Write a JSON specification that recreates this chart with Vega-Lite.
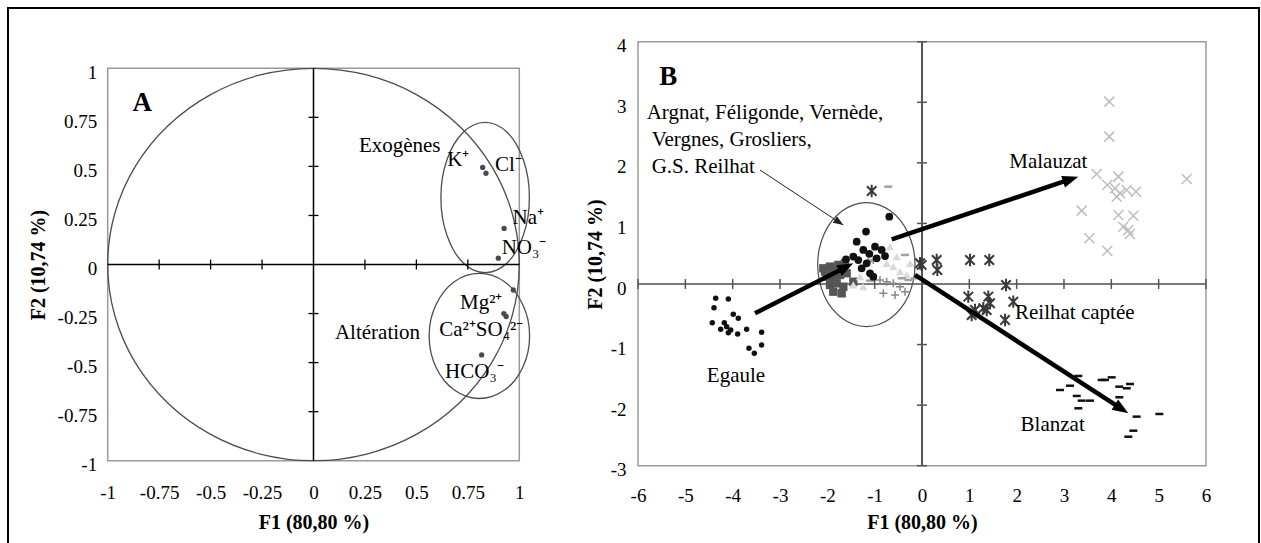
{
"$schema":"https://vega.github.io/schema/vega-lite/v6.json",
"width":1251,"height":537,
"autosize":{"type":"none"},
"padding":{"left":8,"top":8,"right":2,"bottom":0},
"background":"white",
"config":{
 "view":{"stroke":"black","strokeWidth":2},
 "axis":{"grid":false,"domain":false,"ticks":false,"tickSize":0,"labelFont":"Liberation Serif","labelFontSize":19,"labelColor":"black","titleFont":"Liberation Serif","titleFontSize":20,"titleFontWeight":"bold","titleColor":"black","labelFlush":false,"labelOverlap":false},
 "text":{"font":"Liberation Serif","fontSize":21,"color":"black"}
},
"datasets":{
 "curvesA":[
  {"s":"c","i":0,"x":1,"y":0},{"s":"c","i":1,"x":0.9659,"y":0.2588},{"s":"c","i":2,"x":0.866,"y":0.5},{"s":"c","i":3,"x":0.7071,"y":0.7071},{"s":"c","i":4,"x":0.5,"y":0.866},{"s":"c","i":5,"x":0.2588,"y":0.9659},{"s":"c","i":6,"x":0,"y":1},{"s":"c","i":7,"x":-0.2588,"y":0.9659},{"s":"c","i":8,"x":-0.5,"y":0.866},{"s":"c","i":9,"x":-0.7071,"y":0.7071},{"s":"c","i":10,"x":-0.866,"y":0.5},{"s":"c","i":11,"x":-0.9659,"y":0.2588},{"s":"c","i":12,"x":-1,"y":0},{"s":"c","i":13,"x":-0.9659,"y":-0.2588},{"s":"c","i":14,"x":-0.866,"y":-0.5},{"s":"c","i":15,"x":-0.7071,"y":-0.7071},{"s":"c","i":16,"x":-0.5,"y":-0.866},{"s":"c","i":17,"x":-0.2588,"y":-0.9659},{"s":"c","i":18,"x":0,"y":-1},{"s":"c","i":19,"x":0.2588,"y":-0.9659},{"s":"c","i":20,"x":0.5,"y":-0.866},{"s":"c","i":21,"x":0.7071,"y":-0.7071},{"s":"c","i":22,"x":0.866,"y":-0.5},{"s":"c","i":23,"x":0.9659,"y":-0.2588},
  {"s":"e","i":0,"x":1.049,"y":0.341},{"s":"e","i":1,"x":1.042,"y":0.44},{"s":"e","i":2,"x":1.02,"y":0.533},{"s":"e","i":3,"x":0.986,"y":0.612},{"s":"e","i":4,"x":0.942,"y":0.673},{"s":"e","i":5,"x":0.89,"y":0.711},{"s":"e","i":6,"x":0.834,"y":0.724},{"s":"e","i":7,"x":0.778,"y":0.711},{"s":"e","i":8,"x":0.727,"y":0.673},{"s":"e","i":9,"x":0.682,"y":0.612},{"s":"e","i":10,"x":0.648,"y":0.533},{"s":"e","i":11,"x":0.626,"y":0.44},{"s":"e","i":12,"x":0.619,"y":0.341},{"s":"e","i":13,"x":0.626,"y":0.242},{"s":"e","i":14,"x":0.648,"y":0.15},{"s":"e","i":15,"x":0.682,"y":0.07},{"s":"e","i":16,"x":0.727,"y":0.009},{"s":"e","i":17,"x":0.778,"y":-0.029},{"s":"e","i":18,"x":0.834,"y":-0.042},{"s":"e","i":19,"x":0.89,"y":-0.029},{"s":"e","i":20,"x":0.942,"y":0.009},{"s":"e","i":21,"x":0.986,"y":0.07},{"s":"e","i":22,"x":1.02,"y":0.15},{"s":"e","i":23,"x":1.042,"y":0.242},
  {"s":"a","i":0,"x":1.05,"y":-0.364},{"s":"a","i":1,"x":1.042,"y":-0.281},{"s":"a","i":2,"x":1.017,"y":-0.205},{"s":"a","i":3,"x":0.979,"y":-0.138},{"s":"a","i":4,"x":0.928,"y":-0.088},{"s":"a","i":5,"x":0.869,"y":-0.056},{"s":"a","i":6,"x":0.806,"y":-0.045},{"s":"a","i":7,"x":0.743,"y":-0.056},{"s":"a","i":8,"x":0.684,"y":-0.088},{"s":"a","i":9,"x":0.634,"y":-0.138},{"s":"a","i":10,"x":0.595,"y":-0.205},{"s":"a","i":11,"x":0.57,"y":-0.281},{"s":"a","i":12,"x":0.562,"y":-0.364},{"s":"a","i":13,"x":0.57,"y":-0.447},{"s":"a","i":14,"x":0.595,"y":-0.524},{"s":"a","i":15,"x":0.634,"y":-0.59},{"s":"a","i":16,"x":0.684,"y":-0.64},{"s":"a","i":17,"x":0.743,"y":-0.672},{"s":"a","i":18,"x":0.806,"y":-0.683},{"s":"a","i":19,"x":0.869,"y":-0.672},{"s":"a","i":20,"x":0.928,"y":-0.64},{"s":"a","i":21,"x":0.979,"y":-0.59},{"s":"a","i":22,"x":1.017,"y":-0.524},{"s":"a","i":23,"x":1.042,"y":-0.447}
 ],
 "ellB":[
  {"i":0,"x":-0.148,"y":0.319},{"i":1,"x":-0.183,"y":0.584},{"i":2,"x":-0.286,"y":0.831},{"i":3,"x":-0.449,"y":1.042},{"i":4,"x":-0.662,"y":1.205},{"i":5,"x":-0.91,"y":1.307},{"i":6,"x":-1.176,"y":1.342},{"i":7,"x":-1.442,"y":1.307},{"i":8,"x":-1.69,"y":1.205},{"i":9,"x":-1.903,"y":1.042},{"i":10,"x":-2.066,"y":0.831},{"i":11,"x":-2.169,"y":0.584},{"i":12,"x":-2.204,"y":0.319},{"i":13,"x":-2.169,"y":0.054},{"i":14,"x":-2.066,"y":-0.193},{"i":15,"x":-1.903,"y":-0.404},{"i":16,"x":-1.69,"y":-0.567},{"i":17,"x":-1.442,"y":-0.669},{"i":18,"x":-1.176,"y":-0.704},{"i":19,"x":-0.91,"y":-0.669},{"i":20,"x":-0.662,"y":-0.567},{"i":21,"x":-0.449,"y":-0.404},{"i":22,"x":-0.286,"y":-0.193},{"i":23,"x":-0.183,"y":0.054}
 ],
 "ptsB":[
  {"g":"S","x":-2.085,"y":0.259},{"g":"S","x":-1.944,"y":0.287},{"g":"S","x":-1.874,"y":0.232},{"g":"S","x":-1.768,"y":0.315},{"g":"S","x":-1.627,"y":0.342},{"g":"S","x":-2.014,"y":0.121},{"g":"S","x":-1.874,"y":0.095},{"g":"S","x":-1.733,"y":0.149},{"g":"S","x":-1.592,"y":0.177},{"g":"S","x":-1.944,"y":-0.016},{"g":"S","x":-1.803,"y":0.012},{"g":"S","x":-1.662,"y":-0.044},{"g":"S","x":-1.451,"y":0.038},{"g":"S","x":-1.874,"y":-0.127},{"g":"S","x":-1.697,"y":-0.154},{"g":"S","x":-2.049,"y":0.205},
  {"g":"T","x":-0.746,"y":0.342},{"g":"T","x":-0.606,"y":0.287},{"g":"T","x":-0.465,"y":0.205},{"g":"T","x":-0.323,"y":0.149},{"g":"T","x":-1.31,"y":0.121},{"g":"T","x":-1.451,"y":-0.016},{"g":"T","x":-1.24,"y":-0.044},{"g":"T","x":-0.253,"y":0.342},{"g":"T","x":-0.676,"y":0.616},{"g":"T","x":-0.534,"y":0.452},
  {"g":"P","x":-1.029,"y":0.396},{"g":"P","x":-0.888,"y":0.066},{"g":"P","x":-0.746,"y":0.038},{"g":"P","x":-0.606,"y":0.012},{"g":"P","x":-0.465,"y":-0.044},{"g":"P","x":-0.57,"y":-0.181},{"g":"P","x":-0.817,"y":-0.154},{"g":"P","x":-0.359,"y":-0.127},{"g":"P","x":-1.134,"y":0.369},
  {"g":"D","x":-0.712,"y":1.607},{"g":"D","x":-0.359,"y":0.479},{"g":"D","x":-0.288,"y":0.066},{"g":"D","x":-0.148,"y":0.095},{"g":"D","x":-0.429,"y":0.095},{"g":"D","x":-1.098,"y":0.055},
  {"g":"C","x":-0.691,"y":1.112},{"g":"C","x":-1.183,"y":0.865},{"g":"C","x":-1.38,"y":0.699},{"g":"C","x":-0.993,"y":0.616},{"g":"C","x":-1.24,"y":0.562},{"g":"C","x":-0.852,"y":0.562},{"g":"C","x":-1.113,"y":0.496},{"g":"C","x":-1.451,"y":0.452},{"g":"C","x":-1.606,"y":0.408},{"g":"C","x":-1.346,"y":0.396},{"g":"C","x":-0.958,"y":0.425},{"g":"C","x":-0.781,"y":0.462},{"g":"C","x":-1.169,"y":0.342},{"g":"C","x":-1.275,"y":0.259},{"g":"C","x":-1.098,"y":0.177},{"g":"C","x":-1.029,"y":0.121},
  {"g":"E","x":-4.359,"y":-0.236},{"g":"E","x":-4.092,"y":-0.248},{"g":"E","x":-4.395,"y":-0.391},{"g":"E","x":-3.987,"y":-0.5},{"g":"E","x":-3.881,"y":-0.567},{"g":"E","x":-4.431,"y":-0.638},{"g":"E","x":-4.177,"y":-0.638},{"g":"E","x":-4.127,"y":-0.704},{"g":"E","x":-4.042,"y":-0.759},{"g":"E","x":-4.254,"y":-0.748},{"g":"E","x":-4.092,"y":-0.803},{"g":"E","x":-3.895,"y":-0.825},{"g":"E","x":-3.705,"y":-0.748},{"g":"E","x":-3.388,"y":-0.798},{"g":"E","x":-3.388,"y":-1.006},{"g":"E","x":-3.656,"y":-1.062},{"g":"E","x":-3.543,"y":-1.144},
  {"g":"M","x":3.957,"y":3.011},{"g":"M","x":3.957,"y":2.433},{"g":"M","x":3.69,"y":1.817},{"g":"M","x":4.149,"y":1.773},{"g":"M","x":3.916,"y":1.635},{"g":"M","x":4.184,"y":1.497},{"g":"M","x":4.325,"y":1.553},{"g":"M","x":4.521,"y":1.524},{"g":"M","x":4.114,"y":1.441},{"g":"M","x":5.593,"y":1.734},{"g":"M","x":3.373,"y":1.211},{"g":"M","x":4.149,"y":1.14},{"g":"M","x":4.465,"y":1.128},{"g":"M","x":4.253,"y":0.946},{"g":"M","x":4.359,"y":0.892},{"g":"M","x":4.394,"y":0.826},{"g":"M","x":3.535,"y":0.755},{"g":"M","x":3.916,"y":0.55},{"g":"M","x":4.078,"y":1.58},
  {"g":"R","x":-0.042,"y":0.342},{"g":"R","x":0.31,"y":0.396},{"g":"R","x":0.324,"y":0.232},{"g":"R","x":1.014,"y":0.396},{"g":"R","x":1.422,"y":0.396},{"g":"R","x":1.775,"y":-0.016},{"g":"R","x":0.978,"y":-0.209},{"g":"R","x":1.401,"y":-0.209},{"g":"R","x":1.437,"y":-0.318},{"g":"R","x":1.12,"y":-0.429},{"g":"R","x":1.295,"y":-0.401},{"g":"R","x":1.929,"y":-0.292},{"g":"R","x":1.754,"y":-0.594},{"g":"R","x":1.049,"y":-0.512},{"g":"R","x":1.366,"y":-0.429},{"g":"R","x":-1.063,"y":1.536},{"g":"R","x":-0.007,"y":0.315},
  {"g":"B","x":3.303,"y":-1.518},{"g":"B","x":3.796,"y":-1.584},{"g":"B","x":4.007,"y":-1.541},{"g":"B","x":3.127,"y":-1.679},{"g":"B","x":2.916,"y":-1.75},{"g":"B","x":3.269,"y":-1.848},{"g":"B","x":3.373,"y":-1.926},{"g":"B","x":3.55,"y":-1.926},{"g":"B","x":3.303,"y":-2.052},{"g":"B","x":4.169,"y":-1.695},{"g":"B","x":4.395,"y":-1.651},{"g":"B","x":4.325,"y":-1.722},{"g":"B","x":4.169,"y":-1.87},{"g":"B","x":4.535,"y":-2.19},{"g":"B","x":5.014,"y":-2.146},{"g":"B","x":4.465,"y":-2.422},{"g":"B","x":4.359,"y":-2.521},{"g":"B","x":3.866,"y":-1.584}
 ],
 "arrows":[
  {"a":"Egaule","x":-3.528,"y":-0.484,"x2":-1.602,"y2":0.282},
  {"a":"Malauzat","x":-0.64,"y":0.738,"x2":3.142,"y2":1.73},
  {"a":"Blanzat","x":-0.148,"y":0.149,"x2":4.217,"y2":-2.063},
  {"a":"Argnat","x":-3.423,"y":1.882,"x2":-1.663,"y2":0.974}
 ],
 "heads":[
  {"a":"Egaule","x":-1.451,"y":0.342},
  {"a":"Malauzat","x":3.302,"y":1.772},
  {"a":"Blanzat","x":4.359,"y":-2.135},
  {"a":"Argnat","x":-1.663,"y":0.974}
 ]
},
"layer":[
 {
  "encoding":{
   "x":{"field":"x","type":"quantitative","scale":{"domain":[-1.48445,4.59427],"nice":false,"zero":false},
        "axis":{"orient":"bottom","offset":-84.3,"values":[-1,-0.75,-0.5,-0.25,0,0.25,0.5,0.75,1],"labelExpr":"'' + datum.value","labelPadding":22.5,"title":"F1 (80,80 %)","titleX":305.5,"titleY":61.3,"titleAlign":"center","titleBaseline":"middle","titleAngle":0}},
   "y":{"field":"y","type":"quantitative","scale":{"domain":[-1.42966,1.30734],"nice":false,"zero":false},
        "axis":{"orient":"left","offset":-99.7,"values":[-1,-0.75,-0.5,-0.25,0,0.25,0.5,0.75,1],"labelExpr":"'' + datum.value","labelPadding":11,"labelOffset":4,"title":"F2 (10,74 %)","titleX":-69.7,"titleY":256.5,"titleAlign":"center","titleBaseline":"middle","titleAngle":-90}}
  },
  "layer":[
   {"data":{"values":[{"x":-1,"y":-1,"x2":1,"y2":1}]},"mark":{"type":"rect","filled":false,"stroke":"#9a9a9a","strokeWidth":1.5},"encoding":{"x2":{"field":"x2"},"y2":{"field":"y2"}}},
   {"data":{"name":"curvesA"},"mark":{"type":"line","interpolate":"cardinal-closed","stroke":"#4d4d4d","strokeWidth":1.3},"encoding":{"order":{"field":"i","type":"quantitative"},"detail":{"field":"s","type":"nominal"}}},
   {"data":{"values":[{"x":-1,"y":0,"x2":1,"y2":0},{"x":0,"y":-1,"x2":0,"y2":1}]},"mark":{"type":"rule","color":"black","strokeWidth":1.5},"encoding":{"x2":{"field":"x2"},"y2":{"field":"y2"}}},
   {"data":{"values":[{"x":-0.75,"y":0},{"x":-0.5,"y":0},{"x":-0.25,"y":0},{"x":0.25,"y":0},{"x":0.5,"y":0},{"x":0.75,"y":0}]},"mark":{"type":"tick","orient":"vertical","size":10,"thickness":1.3,"color":"black","opacity":1}},
   {"data":{"values":[{"x":0,"y":-0.75},{"x":0,"y":-0.5},{"x":0,"y":-0.25},{"x":0,"y":0.25},{"x":0,"y":0.5},{"x":0,"y":0.75}]},"mark":{"type":"tick","orient":"horizontal","size":10,"thickness":1.3,"color":"black","opacity":1}},
   {"data":{"values":[{"v":"K","x":0.822,"y":0.495},{"v":"Cl","x":0.838,"y":0.465},{"v":"Na","x":0.926,"y":0.184},{"v":"NO3","x":0.898,"y":0.032},{"v":"Mg","x":0.971,"y":-0.13},{"v":"Ca","x":0.925,"y":-0.25},{"v":"SO4","x":0.936,"y":-0.265},{"v":"HCO3","x":0.817,"y":-0.461}]},"mark":{"type":"circle","size":28,"color":"#4a4a4a","opacity":1}},
   {"data":{"values":[{"x":0.419,"y":0.606,"t":"Exogènes"},{"x":0.704,"y":0.533,"t":"K⁺"},{"x":0.947,"y":0.507,"t":"Cl⁻"},{"x":1.044,"y":0.235,"t":"Na⁺"},{"x":1.023,"y":0.083,"t":"NO₃⁻"},{"x":0.815,"y":-0.195,"t":"Mg²⁺"},{"x":0.815,"y":-0.334,"t":"Ca²⁺SO₄²⁻"},{"x":0.782,"y":-0.55,"t":"HCO₃⁻"},{"x":0.311,"y":-0.347,"t":"Altération"}]},"mark":{"type":"text","align":"center","baseline":"middle","fontSize":21},"encoding":{"text":{"field":"t"}}},
   {"data":{"values":[{"x":-0.832,"y":0.823,"t":"A"}]},"mark":{"type":"text","align":"center","baseline":"middle","fontSize":27,"fontWeight":"bold"},"encoding":{"text":{"field":"t"}}}
  ]
 },
 {
  "encoding":{
   "x":{"field":"x","type":"quantitative","scale":{"domain":[-19.3112,7.12022],"nice":false,"zero":false},
        "axis":{"orient":"bottom","offset":-79.3,"values":[-6,-5,-4,-3,-2,-1,0,1,2,3,4,5,6],"labelExpr":"'' + datum.value","labelPadding":21,"title":"F1 (80,80 %)","titleX":914,"titleY":56.3,"titleAlign":"center","titleBaseline":"middle","titleAngle":0}},
   "y":{"field":"y","type":"quantitative","scale":{"domain":[-4.30906,4.55671],"nice":false,"zero":false},
        "axis":{"orient":"left","offset":-630,"values":[-3,-2,-1,0,1,2,3,4],"labelExpr":"'' + datum.value","labelPadding":12,"labelOffset":4,"title":"F2 (10,74 %)","titleX":-43,"titleY":246,"titleAlign":"center","titleBaseline":"middle","titleAngle":-90}}
  },
  "layer":[
   {"data":{"values":[{"x":-6,"y":-3,"x2":6,"y2":4}]},"mark":{"type":"rect","filled":false,"stroke":"#9a9a9a","strokeWidth":1.5},"encoding":{"x2":{"field":"x2"},"y2":{"field":"y2"}}},
   {"data":{"values":[{"x":-6,"y":0,"x2":6,"y2":0}]},"mark":{"type":"rule","color":"#7a7a7a","strokeWidth":2},"encoding":{"x2":{"field":"x2"},"y2":{"field":"y2"}}},
   {"data":{"values":[{"x":0,"y":-3,"x2":0,"y2":4}]},"mark":{"type":"rule","color":"#555555","strokeWidth":2},"encoding":{"x2":{"field":"x2"},"y2":{"field":"y2"}}},
   {"data":{"values":[{"x":-6,"y":0},{"x":-5,"y":0},{"x":-4,"y":0},{"x":-3,"y":0},{"x":-2,"y":0},{"x":-1,"y":0},{"x":1,"y":0},{"x":2,"y":0},{"x":3,"y":0},{"x":4,"y":0},{"x":5,"y":0},{"x":6,"y":0}]},"mark":{"type":"tick","orient":"vertical","size":10,"thickness":1.5,"color":"#555555","opacity":1}},
   {"data":{"values":[{"x":0,"y":-3},{"x":0,"y":-2},{"x":0,"y":-1},{"x":0,"y":1},{"x":0,"y":2},{"x":0,"y":3},{"x":0,"y":4}]},"mark":{"type":"tick","orient":"horizontal","size":10,"thickness":1.5,"color":"#555555","opacity":1}},
   {"data":{"name":"ellB"},"mark":{"type":"line","interpolate":"cardinal-closed","stroke":"#4d4d4d","strokeWidth":1.2},"encoding":{"order":{"field":"i","type":"quantitative"}}},
   {"data":{"name":"ptsB"},"transform":[{"filter":"datum.g === 'S'"}],"mark":{"type":"square","size":70,"color":"#555555","opacity":1}},
   {"data":{"name":"ptsB"},"transform":[{"filter":"datum.g === 'T'"}],"mark":{"type":"point","shape":"triangle-up","filled":true,"size":70,"color":"#d9d9d9","opacity":1}},
   {"data":{"name":"ptsB"},"transform":[{"filter":"datum.g === 'P'"}],"mark":{"type":"point","shape":"M-1,0L1,0M0,-1L0,1","filled":false,"size":64,"strokeWidth":1.5,"color":"#888888","opacity":1}},
   {"data":{"name":"ptsB"},"transform":[{"filter":"datum.g === 'D'"}],"mark":{"type":"point","shape":"M-1,0L1,0","filled":false,"size":64,"strokeWidth":2.5,"color":"#a0a0a0","opacity":1}},
   {"data":{"name":"ptsB"},"transform":[{"filter":"datum.g === 'C'"}],"mark":{"type":"circle","size":60,"color":"#111111","opacity":1}},
   {"data":{"name":"ptsB"},"transform":[{"filter":"datum.g === 'E'"}],"mark":{"type":"circle","size":30,"color":"#111111","opacity":1}},
   {"data":{"name":"ptsB"},"transform":[{"filter":"datum.g === 'M'"}],"mark":{"type":"point","shape":"M-1,-1L1,1M-1,1L1,-1","filled":false,"size":100,"strokeWidth":1.5,"color":"#bdbdbd","opacity":1}},
   {"data":{"name":"ptsB"},"transform":[{"filter":"datum.g === 'R'"}],"mark":{"type":"point","shape":"M-1,-1L1,1M-1,1L1,-1M0,-1.3L0,1.3","filled":false,"size":90,"strokeWidth":2,"color":"#3a3a3a","opacity":1}},
   {"data":{"name":"ptsB"},"transform":[{"filter":"datum.g === 'B'"}],"mark":{"type":"point","shape":"M-1,0L1,0","filled":false,"size":64,"strokeWidth":2.5,"color":"#111111","opacity":1}},
   {"data":{"name":"arrows"},"transform":[{"filter":"datum.a !== 'Argnat'"}],"mark":{"type":"rule","color":"black","strokeWidth":4.5},"encoding":{"x2":{"field":"x2"},"y2":{"field":"y2"}}},
   {"data":{"name":"arrows"},"transform":[{"filter":"datum.a === 'Argnat'"}],"mark":{"type":"rule","color":"#222222","strokeWidth":1},"encoding":{"x2":{"field":"x2"},"y2":{"field":"y2"}}},
   {"data":{"name":"heads"},"transform":[{"filter":"datum.a === 'Egaule'"}],"mark":{"type":"point","shape":"M0,0L0.75,2L-0.75,2Z","filled":true,"size":256,"angle":63,"color":"black","opacity":1}},
   {"data":{"name":"heads"},"transform":[{"filter":"datum.a === 'Malauzat'"}],"mark":{"type":"point","shape":"M0,0L0.75,2L-0.75,2Z","filled":true,"size":256,"angle":71.5,"color":"black","opacity":1}},
   {"data":{"name":"heads"},"transform":[{"filter":"datum.a === 'Blanzat'"}],"mark":{"type":"point","shape":"M0,0L0.75,2L-0.75,2Z","filled":true,"size":256,"angle":123,"color":"black","opacity":1}},
   {"data":{"name":"heads"},"transform":[{"filter":"datum.a === 'Argnat'"}],"mark":{"type":"point","shape":"M0,0L0.75,2L-0.75,2Z","filled":true,"size":100,"angle":123.4,"color":"#222222","opacity":1}},
   {"data":{"values":[{"x":2.669,"y":2.019,"t":"Malauzat"},{"x":2.761,"y":-2.328,"t":"Blanzat"},{"x":-3.93,"y":-1.519,"t":"Egaule"}]},"mark":{"type":"text","align":"center","baseline":"middle","fontSize":21},"encoding":{"text":{"field":"t"}}},
   {"data":{"values":[{"x":-5.817,"y":2.818,"t":"Argnat, Féligonde, Vernède,"},{"x":-5.711,"y":2.377,"t":"Vergnes, Grosliers,"},{"x":-5.711,"y":1.937,"t":"G.S. Reilhat"},{"x":1.965,"y":-0.474,"t":"Reilhat captée"}]},"mark":{"type":"text","align":"left","baseline":"middle","fontSize":21},"encoding":{"text":{"field":"t"}}},
   {"data":{"values":[{"x":-5.36,"y":3.423,"t":"B"}]},"mark":{"type":"text","align":"center","baseline":"middle","fontSize":27,"fontWeight":"bold"},"encoding":{"text":{"field":"t"}}}
  ]
 }
],
"resolve":{"scale":{"x":"independent","y":"independent"},"axis":{"x":"independent","y":"independent"}}
}
